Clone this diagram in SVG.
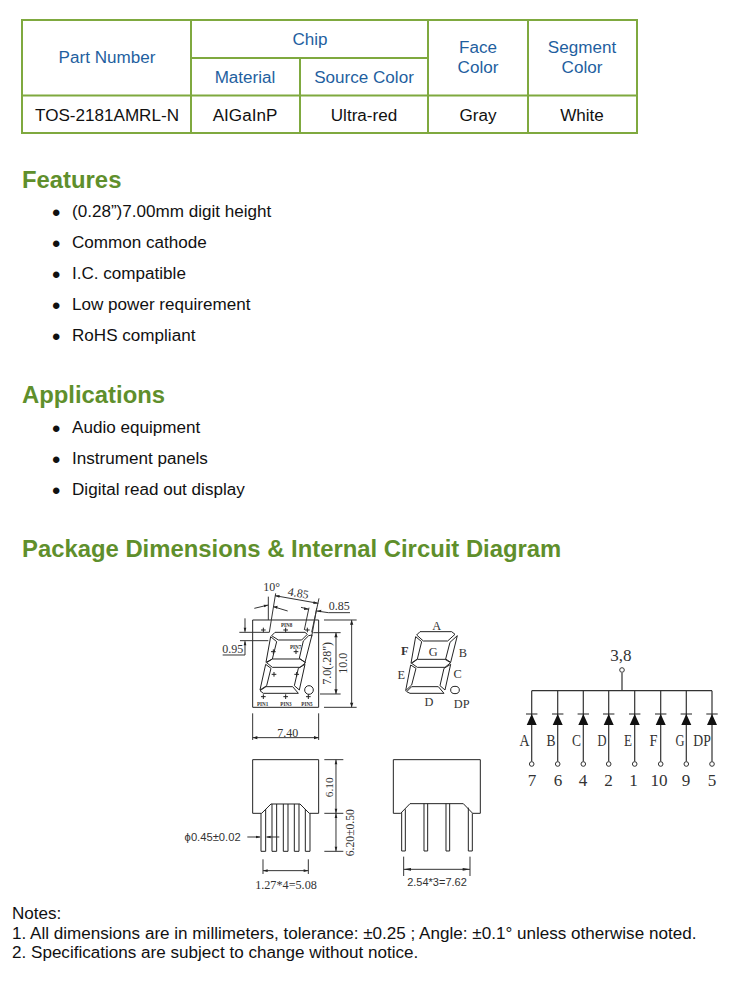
<svg xmlns="http://www.w3.org/2000/svg" width="745" height="1000" viewBox="0 0 745 1000">
<style>
text{font-family:"Liberation Sans",Arial,sans-serif;font-size:17.080px;fill:#111}
.h{fill:#1f5f9f;text-anchor:middle}
.c{text-anchor:middle}
.t{font-size:23.850px;font-weight:bold;fill:#5f8f2c}
.b{font-size:24px}
.g{fill:none;stroke:#7fa93f;stroke-width:2}
.d{fill:none;stroke:#222;stroke-width:3}
.th{fill:none;stroke:#333;stroke-width:3}
.s{font-family:"Liberation Serif","Times New Roman",serif;fill:#333;text-anchor:middle}
.p{font-size:16px;font-weight:bold}
.l{font-size:36px}
.a{fill:#222}
</style>
<rect width="745" height="1000" fill="#fff"/>
<g id="spec-table">
<path class="g" d="M22 20H637V133H22ZM22 95.500H637M191 20V133M191 58H428M300 58V133M428 20V133M528 20V133"/>
<text class="h" x="107" y="62.500">Part Number</text>
<text class="h" x="310" y="44.500">Chip</text>
<text class="h" x="245" y="82.500">Material</text>
<text class="h" x="364" y="82.500">Source Color</text>
<text class="h" x="478" y="53">Face</text>
<text class="h" x="478" y="73">Color</text>
<text class="h" x="582" y="53">Segment</text>
<text class="h" x="582" y="73">Color</text>
<text class="c" x="107" y="120.500">TOS-2181AMRL-N</text>
<text class="c" x="245" y="120.500">AIGaInP</text>
<text class="c" x="364" y="120.500">Ultra-red</text>
<text class="c" x="478" y="120.500">Gray</text>
<text class="c" x="582" y="120.500">White</text>
</g>
<g id="features">
<text class="t" x="22" y="188">Features</text>
<text class="b" x="52" y="221">•</text><text x="72" y="217">(0.28”)7.00mm digit height</text>
<text class="b" x="52" y="252">•</text><text x="72" y="248">Common cathode</text>
<text class="b" x="52" y="283">•</text><text x="72" y="279">I.C. compatible</text>
<text class="b" x="52" y="314">•</text><text x="72" y="310">Low power requirement</text>
<text class="b" x="52" y="345">•</text><text x="72" y="341">RoHS compliant</text>
</g>
<g id="applications">
<text class="t" x="22" y="403">Applications</text>
<text class="b" x="52" y="437">•</text><text x="72" y="433">Audio equipment</text>
<text class="b" x="52" y="468">•</text><text x="72" y="464">Instrument panels</text>
<text class="b" x="52" y="499">•</text><text x="72" y="495">Digital read out display</text>
</g>
<text id="package-title" class="t" x="22" y="557">Package Dimensions &amp; Internal Circuit Diagram</text>

<g id="front-view">
<g transform="translate(250 625) scale(.3333)">
<path class="d" d="M75 22H165L172 28L155 45H85L65 32ZM62 35L80 50L67 102L48 112ZM176 32L160 48L148 100L165 112L186 30ZM50 113L67 102H150L167 113L150 127H67ZM47 118L63 130L50 182L30 195ZM165 118L145 130L133 182L148 195ZM30 197L48 185H128L145 205H40Z"/>
<circle class="d" cx="177" cy="195" r="13"/>
<path stroke="#222" stroke-width="3" d="M40 8V22M33 15H47M107 8V22M100 15H114M172 8V22M165 15H179M138 73V87M131 80H145M70 73V87M63 80H77M72 141V155M65 148H79M140 141V155M133 148H147M40 208V222M33 215H47M107 208V222M100 215H114M175 208V222M168 215H182"/>
</g>
<g transform="translate(210 570) scale(.3333)">
<path class="d" d="M128 150H326V412H128Z"/>
<path class="th" d="M88 187H178M90 212H175M105 145V185M105 214V255M38 255H105M310 188H392M330 372H392M378 188V372M342 150H440M425 150V412M342 412H440M128 430V510M326 430V510M128 503H326"/>
<path class="a" d="M425 150l-5 14h10ZM425 412l-5-14h10ZM378 188l-5 14h10ZM378 372l-5-14h10ZM128 503l14-5v10ZM326 503l-14-5v10ZM105 187l-4-14h8ZM105 212l-4 14h8Z"/>
<text class="s p" x="230" y="172" lengthAdjust="spacingAndGlyphs" textLength="34">PIN8</text>
<text class="s p" x="257" y="236" lengthAdjust="spacingAndGlyphs" textLength="34">PIN7</text>
<text class="s p" x="158" y="408" lengthAdjust="spacingAndGlyphs" textLength="34">PIN1</text>
<text class="s p" x="228" y="408" lengthAdjust="spacingAndGlyphs" textLength="34">PIN3</text>
<text class="s p" x="291" y="408" lengthAdjust="spacingAndGlyphs" textLength="34">PIN5</text>
<text class="s l" x="388" y="120">0.85</text>
<text class="s l" x="68" y="249">0.95</text>
<text class="s l" x="233" y="501">7.40</text>
<text class="s l" transform="translate(364 280) rotate(-90)">7.0(.28")</text>
<text class="s l" transform="translate(412 280) rotate(-90)">10.0</text>
</g>
<g transform="translate(215 575) scale(.3333)">
<path class="th" d="M160 65V135M182 55L163 172M312 70L290 172M305 100L290 185M282 98L268 165M118 100L160 90M175 95L218 108M180 62L310 85M258 97L282 103M305 108L340 113H405"/>
<path class="a" d="M160 90l-14-1 2 8ZM175 95l13-3-2 9ZM180 62l14-2-1 8ZM310 85l-14-6-1 8ZM282 103l-14-6-1 8ZM305 108l14-4-1 8Z"/>
<text class="s l" x="170" y="48">10°</text>
<text class="s l" transform="translate(248 66) rotate(10)">4.85</text>
</g>
</g>

<g id="side-view-left" transform="translate(170 740) scale(.3333)">
<path class="d" d="M248 220V59H446V220H418L390 192H303L275 220Z"/>
<path class="d" d="M273 220V334H287V207M306 192V334H320V192M340 192V334H354V192M373 192V334H387V192M406 207V334H420V220"/>
<path class="th" d="M232 291H270M290 291H328M463 59H520M463 220H520M463 334H520M498 59V334M279 358V402M415 358V402M279 392H415"/>
<path class="a" d="M272 291l-14-4v8ZM288 291l14-4v8ZM498 59l-4 14h8ZM498 220l-4-14h8ZM498 220l-4 14h8ZM498 334l-4-14h8ZM279 392l14-4v8ZM415 392l-14-4v8Z"/>
<text class="s" x="128" y="304" style="font-size:33.700px;font-family:'Liberation Sans',sans-serif">ϕ0.45±0.02</text>
<text class="s" x="348" y="447" style="font-size:36.600px">1.27*4=5.08</text>
<text class="s" transform="translate(489 142) rotate(-90)" style="font-size:34px">6.10</text>
<text class="s" transform="translate(553 278) rotate(-90)" style="font-size:35px">6.20±0.50</text>
</g>

<g id="segment-map">
<g transform="translate(405 625) scale(.3333)">
<path class="d" d="M45 20H140L150 28L128 48H55L35 30ZM32 35L50 50L37 102L18 115ZM157 32L135 52L122 102L137 112ZM20 115L37 103H120L137 113L120 127H37ZM17 120L33 130L20 180L2 197ZM137 118L117 130L105 182L120 195ZM5 200L20 185H100L117 205H15Z"/>
<ellipse class="d" cx="150" cy="195" rx="13" ry="11"/>
</g>
<g transform="translate(380 610) scale(.3333)">
<text class="s" x="170" y="60" style="font-size:37px">A</text>
<text class="s" x="249" y="140" style="font-size:37px">B</text>
<text class="s" x="233" y="204" style="font-size:37px">C</text>
<text class="s" x="147" y="289" style="font-size:37px">D</text>
<text class="s" x="64" y="207" style="font-size:37px">E</text>
<text class="s" x="74" y="136" style="font-size:37px;font-weight:bold">F</text>
<text class="s" x="160" y="139" style="font-size:37px">G</text>
<text class="s" x="245" y="295" style="font-size:37px">DP</text>
</g>
</g>

<g id="side-view-right" transform="translate(380 750) scale(.3333)">
<path class="d" d="M40 29H301V190H278L250 161H90L62 190H40Z"/>
<path class="d" d="M65 187V303H76V178M132 161V303H143V161M198 161V303H209V161M265 173V303H277V190"/>
<path class="th" d="M71 320V378M270 320V378M71 358H270"/>
<path class="a" d="M71 358l22-4v8ZM270 358l-22-4v8Z"/>
<text class="s" x="171" y="407" style="font-size:33px;font-family:'Liberation Sans',sans-serif">2.54*3=7.62</text>
</g>

<g id="connectors" fill="none" stroke="#333" stroke-width="1.200">
<path d="M622 673V690.700M531.700 690.700H712"/>
<path d="M531.700 690.700V761.500M557.700 690.700V761.500M583.300 690.700V761.500M608.700 690.700V761.500M634.700 690.700V761.500M660.700 690.700V761.500M686.300 690.700V761.500M712 690.700V761.500"/>
</g>
<g id="circuit">
<path stroke="#222" stroke-width="1.200" d="M526 714H537.400M552 714H563.400M577.600 714H589M603 714H614.400M629 714H640.400M655 714H666.400M680.600 714H692M706.300 714H717.700"/>
<path fill="#111" d="M531.700 714l-5 11h10ZM557.700 714l-5 11h10ZM583.300 714l-5 11h10ZM608.700 714l-5 11h10ZM634.700 714l-5 11h10ZM660.700 714l-5 11h10ZM686.300 714l-5 11h10ZM712 714l-5 11h10Z"/>
<g fill="#fff" stroke="#333" stroke-width="1"><circle cx="622" cy="670" r="2.300"/><circle cx="531.700" cy="764" r="2.300"/><circle cx="557.700" cy="764" r="2.300"/><circle cx="583.300" cy="764" r="2.300"/><circle cx="608.700" cy="764" r="2.300"/><circle cx="634.700" cy="764" r="2.300"/><circle cx="660.700" cy="764" r="2.300"/><circle cx="686.300" cy="764" r="2.300"/><circle cx="712" cy="764" r="2.300"/></g>
<text class="s" x="621" y="661">3,8</text>
<text class="s" x="524.500" y="746" lengthAdjust="spacingAndGlyphs" textLength="10">A</text><text class="s" x="551" y="746" lengthAdjust="spacingAndGlyphs" textLength="9">B</text><text class="s" x="576.500" y="746" lengthAdjust="spacingAndGlyphs" textLength="9">C</text><text class="s" x="602" y="746" lengthAdjust="spacingAndGlyphs" textLength="9">D</text><text class="s" x="628" y="746" lengthAdjust="spacingAndGlyphs" textLength="8">E</text><text class="s" x="653.500" y="746" lengthAdjust="spacingAndGlyphs" textLength="8">F</text><text class="s" x="680" y="746" lengthAdjust="spacingAndGlyphs" textLength="9">G</text><text class="s" x="702" y="746" lengthAdjust="spacingAndGlyphs" textLength="17.500">DP</text>
<text class="s" x="532" y="785.500">7</text><text class="s" x="558" y="785.500">6</text><text class="s" x="583" y="785.500">4</text><text class="s" x="608.500" y="785.500">2</text><text class="s" x="633.500" y="785.500">1</text><text class="s" x="659" y="785.500">10</text><text class="s" x="686" y="785.500">9</text><text class="s" x="712" y="785.500">5</text>
</g>
<g id="notes">
<text x="12" y="919">Notes:</text>
<text x="12" y="939">1. All dimensions are in millimeters, tolerance: ±0.25 ; Angle: ±0.1° unless otherwise noted.</text>
<text x="12" y="958">2. Specifications are subject to change without notice.</text>
</g>
</svg>
